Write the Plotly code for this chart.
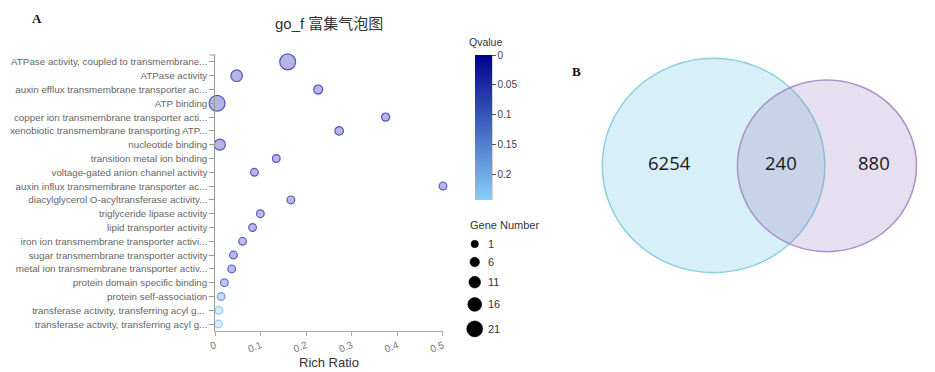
import plotly.graph_objects as go

# ---------------- data ----------------
terms = [
    "ATPase activity, coupled to transmembrane...",
    "ATPase activity",
    "auxin efflux transmembrane transporter ac...",
    "ATP binding",
    "copper ion transmembrane transporter acti...",
    "xenobiotic transmembrane transporting ATP...",
    "nucleotide binding",
    "transition metal ion binding",
    "voltage-gated anion channel activity",
    "auxin influx transmembrane transporter ac...",
    "diacylglycerol O-acyltransferase activity...",
    "triglyceride lipase activity",
    "lipid transporter activity",
    "iron ion transmembrane transporter activi...",
    "sugar transmembrane transporter activity",
    "metal ion transmembrane transporter activ...",
    "protein domain specific binding",
    "protein self-association",
    "transferase activity, transferring acyl g... ",
    "transferase activity, transferring acyl g...",
]
rich_ratio = [0.159, 0.047, 0.226, 0.004, 0.374, 0.272, 0.010, 0.134, 0.086, 0.500,
              0.166, 0.099, 0.082, 0.060, 0.040, 0.036, 0.020, 0.013, 0.008, 0.007]
gene_number = [21, 11, 5, 21, 3, 4, 10, 2, 2, 2,
               2, 2, 2, 2, 2, 2, 2, 2, 2, 2]
qvalue = [0.0, 0.0, 0.01, 0.0, 0.01, 0.01, 0.0, 0.01, 0.01, 0.02,
          0.02, 0.02, 0.02, 0.03, 0.03, 0.04, 0.07, 0.15, 0.22, 0.23]

x_ticks = [0, 0.1, 0.2, 0.3, 0.4, 0.5]
x_tick_labels = ["0", "0.1", "0.2", "0.3", "0.4", "0.5"]
q_ticks = [0, 0.05, 0.1, 0.15, 0.2]
q_tick_labels = ["0", "0.05", "0.1", "0.15", "0.2"]
q_max = 0.243
legend_genes = [1, 6, 11, 16, 21]

venn_counts = [6254, 240, 880]

# ---------------- helpers ----------------
W, H = 935, 372


def size_of(n):
    return 6.9 + 0.43 * n


def px_x(p):
    return p / W


def px_y(p):
    return 1 - p / H


neg_q = [-v for v in qvalue]
fill_scale = [[0, "rgba(135,206,250,0.30)"], [1, "rgba(0,0,150,0.29)"]]
line_scale = [[0, "rgba(135,206,250,0.75)"], [1, "rgba(0,0,170,0.62)"]]
full_scale = [[0, "rgb(135,206,250)"], [1, "rgb(0,0,139)"]]

fig = go.Figure()

# colorbar carrier (invisible markers)
fig.add_trace(go.Scatter(
    x=rich_ratio, y=terms, mode="markers", hoverinfo="skip", showlegend=False,
    marker=dict(size=1, opacity=0, color=neg_q, colorscale=full_scale,
                cmin=-q_max, cmax=0, showscale=True,
                colorbar=dict(
                    x=px_x(473.3), xanchor="left", xpad=0,
                    y=px_y(55), yanchor="top", ypad=0,
                    len=145 / H, lenmode="fraction",
                    thickness=16.7, thicknessmode="pixels",
                    outlinewidth=0, ticks="outside", ticklen=4,
                    tickcolor="#555", tickwidth=1,
                    tickvals=[-v for v in q_ticks], ticktext=q_tick_labels,
                    tickfont=dict(family="Liberation Sans", size=10, color="#444"),
                )),
))

# bubbles
fig.add_trace(go.Scatter(
    x=rich_ratio, y=terms, mode="markers", showlegend=False, cliponaxis=False,
    customdata=list(zip(gene_number, qvalue)),
    hovertemplate="%{y}<br>Rich Ratio: %{x}<br>Gene Number: %{customdata[0]}<br>Qvalue: %{customdata[1]}<extra></extra>",
    marker=dict(size=[size_of(n) for n in gene_number], opacity=1,
                color=neg_q, colorscale=fill_scale, cmin=-q_max, cmax=0,
                line=dict(color=neg_q, colorscale=line_scale, cmin=-q_max, cmax=0, width=1.2)),
))

# size legend on pixel axes
leg_d = [size_of(n) for n in legend_genes]
leg_y = [244.0]
for i in range(1, len(legend_genes)):
    leg_y.append(leg_y[-1] + 9.6 + (leg_d[i - 1] + leg_d[i]) / 2)
fig.add_trace(go.Scatter(
    x=[472.8] * len(legend_genes), y=leg_y, xaxis="x2", yaxis="y2",
    mode="markers", showlegend=False, hoverinfo="skip", cliponaxis=False,
    marker=dict(size=leg_d, color="#000000", opacity=1, line=dict(width=0.6, color="#000000")),
))

annotations = []
for n, yy in zip(legend_genes, leg_y):
    annotations.append(dict(x=px_x(484), y=px_y(yy), xref="paper", yref="paper",
                            text=str(n), showarrow=False, xanchor="left", yanchor="middle",
                            font=dict(family="Liberation Sans", size=11, color="#333")))

annotations += [
    dict(x=px_x(466), y=px_y(225), xref="paper", yref="paper", text="Gene Number",
         showarrow=False, xanchor="left", yanchor="middle",
         font=dict(family="Liberation Sans", size=11, color="#333")),
    dict(x=px_x(484), y=px_y(42), xref="paper", yref="paper", text="Qvalue",
         showarrow=False, xanchor="center", yanchor="middle",
         font=dict(family="Liberation Sans", size=10.5, color="#333")),
    dict(x=px_x(325.5), y=px_y(24), xref="paper", yref="paper", text="go_f 富集气泡图",
         showarrow=False, xanchor="center", yanchor="middle",
         font=dict(family="Liberation Sans, Noto Sans CJK SC", size=15, color="#333")),
    dict(x=px_x(325.5), y=px_y(362), xref="paper", yref="paper", text="Rich Ratio",
         showarrow=False, xanchor="center", yanchor="middle",
         font=dict(family="Liberation Sans", size=13, color="#333")),
    dict(x=px_x(30), y=px_y(19), xref="paper", yref="paper", text="<b>A</b>",
         showarrow=False, xanchor="center", yanchor="middle",
         font=dict(family="Liberation Serif", size=13, color="#111")),
    dict(x=px_x(576), y=px_y(71), xref="paper", yref="paper", text="<b>B</b>",
         showarrow=False, xanchor="center", yanchor="middle",
         font=dict(family="Liberation Serif", size=13, color="#111")),
]

# Venn diagram geometry (pixel axes)
L = dict(x0=601.7, x1=826.7, y0=58.3, y1=272.7)
R = dict(x0=738.3, x1=919.3, y0=80.0, y1=251.7)
cy = (L["y0"] + L["y1"]) / 2
label_x = [(L["x0"] + R["x0"]) / 2, (R["x0"] + L["x1"]) / 2, (L["x1"] + R["x1"]) / 2 + 3]
for val, lx in zip(venn_counts, label_x):
    annotations.append(dict(x=lx, y=cy - 3, xref="x2", yref="y2", text=str(val),
                            showarrow=False, xanchor="center", yanchor="middle",
                            font=dict(family="Open Sans", size=18.5, color="#1a1a1a")))

shapes = [
    dict(type="circle", xref="x2", yref="y2", **L,
         fillcolor="rgba(135,206,230,0.33)", line=dict(color="rgb(140,206,224)", width=1.5)),
    dict(type="circle", xref="x2", yref="y2", **R,
         fillcolor="rgba(150,120,190,0.24)", line=dict(color="rgb(170,145,198)", width=1.5)),
    # colorbar axis line
    dict(type="line", xref="paper", yref="paper", x0=px_x(490), x1=px_x(490),
         y0=px_y(55), y1=px_y(200), line=dict(color="#555", width=1)),
    # y-axis outer end cap
    dict(type="line", xref="paper", yref="paper", x0=px_x(205), x1=px_x(210.5),
         y0=px_y(55), y1=px_y(55), line=dict(color="#999", width=1)),
]

fig.update_layout(
    width=W, height=H, margin=dict(l=0, r=0, t=0, b=0, pad=0),
    paper_bgcolor="white", plot_bgcolor="rgba(0,0,0,0)",
    showlegend=False,
    xaxis=dict(domain=[px_x(210.5), px_x(440.7)], range=[0, 0.5],
               tickvals=x_ticks, ticktext=x_tick_labels, tickangle=-20,
               showline=True, linecolor="#aaa", linewidth=1, ticks="outside",
               ticklen=4, tickcolor="#aaa", showgrid=False, zeroline=False,
               tickfont=dict(family="Liberation Sans", size=10, color="#777")),
    yaxis=dict(domain=[1 - 331 / H, 1 - 55 / H], type="category",
               categoryorder="array", categoryarray=terms,
               range=[len(terms) - 0.5, -0.5],
               showline=True, linecolor="#999", linewidth=1, ticks="outside",
               ticklen=5, tickcolor="#999", showgrid=False, zeroline=False,
               tickfont=dict(family="Liberation Sans", size=9.8, color="#666")),
    xaxis2=dict(domain=[0, 1], range=[0, W], visible=False, anchor="y2", fixedrange=True),
    yaxis2=dict(domain=[0, 1], range=[H, 0], visible=False, anchor="x2", fixedrange=True),
    annotations=annotations,
    shapes=shapes,
)

fig.write_html("out.html", config={"displayModeBar": False},
               post_script="document.body.style.margin='0';document.body.style.overflow='hidden';")
